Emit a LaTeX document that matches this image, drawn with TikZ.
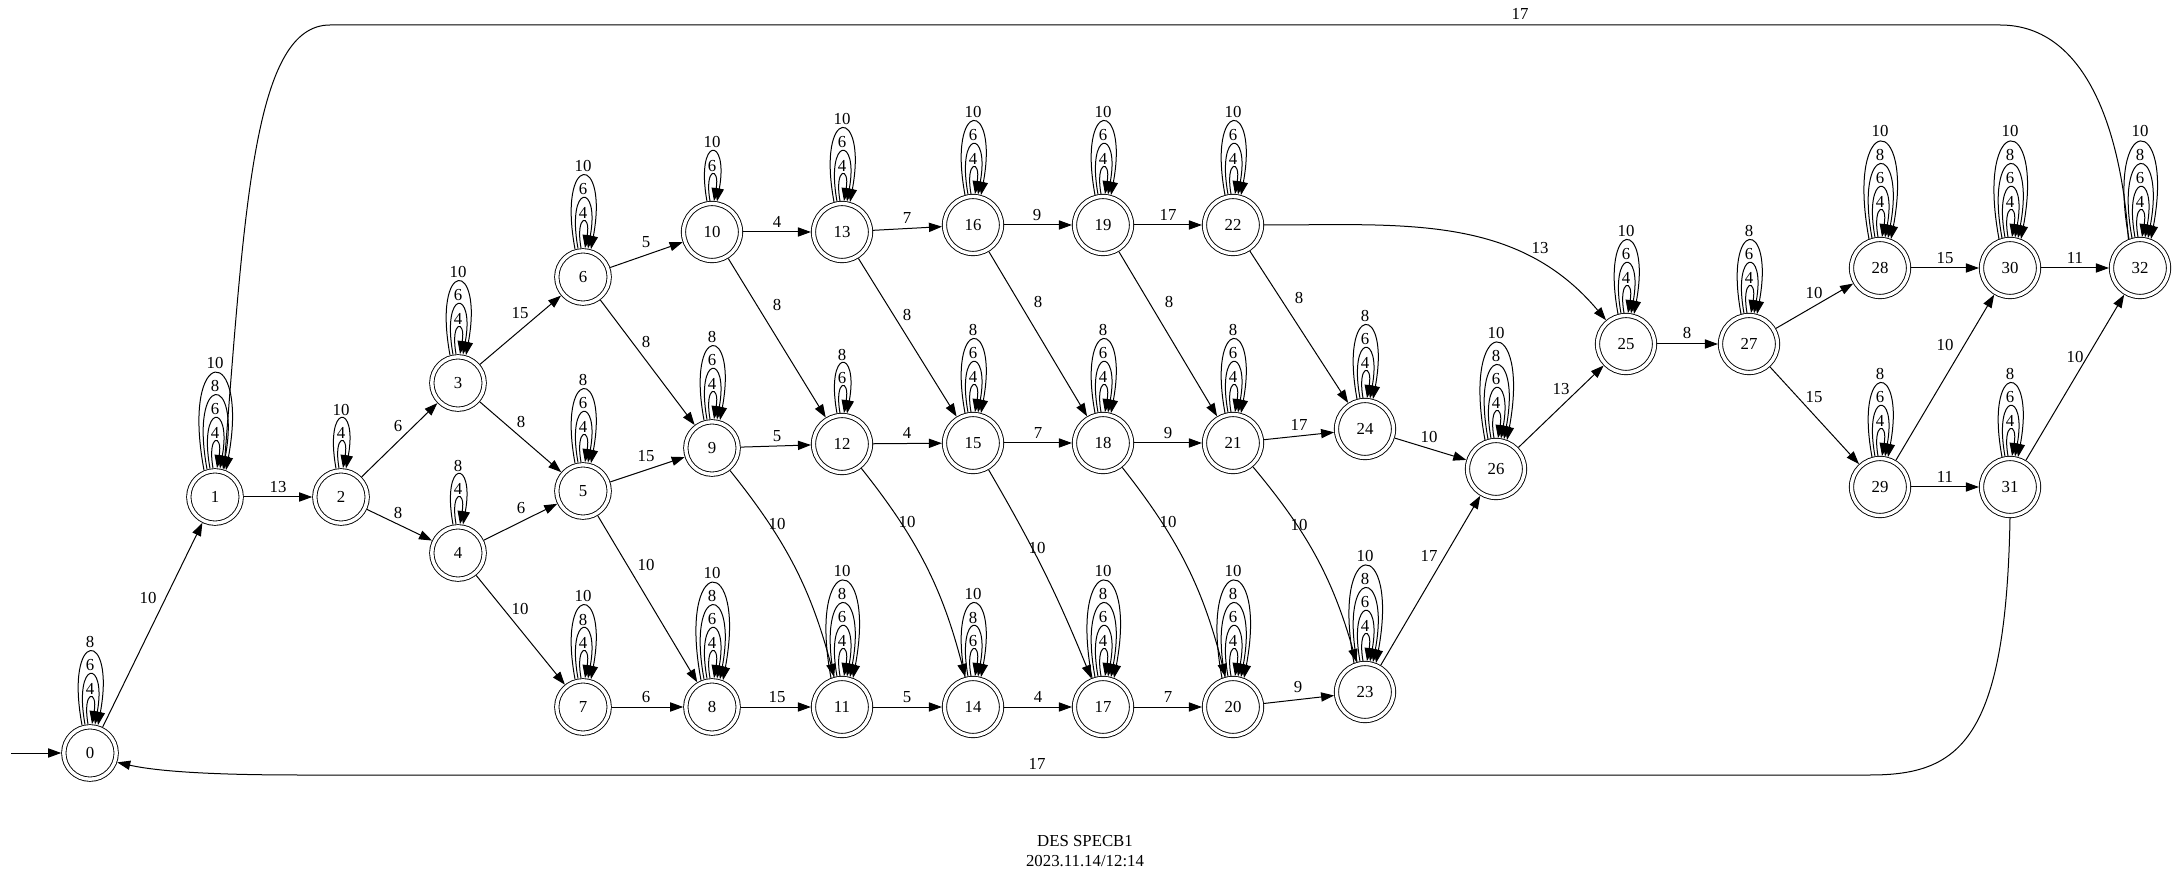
\documentclass[tikz,border=0pt]{standalone}
\usepackage{fontspec}
\setmainfont{Liberation Serif}
\usetikzlibrary{arrows.meta,calc}
\newcommand\lblfont{\fontsize{8.4}{10}\selectfont}
\tikzset{
  x=0.5pt, y=0.5pt,
  arr/.style={line width=0.5pt, -{Triangle[length=6.5pt,width=4.6pt]}},
  plain/.style={line width=0.5pt},
  st/.style={circle, draw, double, double distance=1.7pt, line width=0.45pt,
    inner sep=0pt, outer sep=1.3pt, minimum size=26.2pt, font=\lblfont},
  stw/.style={st, minimum size=28.5pt},
  lab/.style={font=\lblfont, inner sep=0pt},
}
% self loops: node name, outer radius (px), list of labels
\newcommand\selfloops[3]{%
  \foreach \lab [count=\kk from 0] in {#3} {%
    \pgfmathsetmacro\ls{2+3*\kk}%
    \pgfmathsetmacro\lw{6+6*\kk}%
    \pgfmathsetmacro\lpk{25+23.5*\kk}%
    \pgfmathsetmacro\lhc{(\lpk+1)/0.75}%
    \pgfmathsetmacro\ldy{sqrt(#2*#2-\ls*\ls)}%
    \draw[arr] ($(#1)+(-\ls,\ldy)$) .. controls +(-\lw,\lhc) and +(\lw,\lhc) .. ($(#1)+(\ls,\ldy)$);
    \node[lab] at ($(#1)+(0,#2+\lpk+10)$) {\lab};
  }%
}
% edge: [options]{from}{to}{label}{label position}
\newcommand\edg[5][]{%
  \draw[arr,#1] (n#2) to (n#3);
  \node[lab] at (#5) {#4};
}
\begin{document}
\begin{tikzpicture}
\useasboundingbox (0,0) rectangle (2179,-881);

% states
\node[st]  (n0)  at (90,-753)  {0};
\node[st]  (n1)  at (215,-497) {1};
\node[st]  (n2)  at (341,-497) {2};
\node[st]  (n3)  at (458,-383) {3};
\node[st]  (n4)  at (458,-553) {4};
\node[st]  (n5)  at (583,-491) {5};
\node[st]  (n6)  at (583,-277) {6};
\node[st]  (n7)  at (583,-707) {7};
\node[st]  (n8)  at (712,-707) {8};
\node[st]  (n9)  at (712,-448) {9};
\node[stw] (n10) at (712,-232) {10};
\node[stw] (n11) at (842,-707) {11};
\node[stw] (n12) at (842,-444) {12};
\node[stw] (n13) at (842,-232) {13};
\node[stw] (n14) at (973,-707) {14};
\node[stw] (n15) at (973,-443) {15};
\node[stw] (n16) at (973,-225) {16};
\node[stw] (n17) at (1103,-707) {17};
\node[stw] (n18) at (1103,-443) {18};
\node[stw] (n19) at (1103,-225) {19};
\node[stw] (n20) at (1233,-707) {20};
\node[stw] (n21) at (1233,-443) {21};
\node[stw] (n22) at (1233,-225) {22};
\node[stw] (n23) at (1365,-692) {23};
\node[stw] (n24) at (1365,-429) {24};
\node[stw] (n25) at (1626,-344) {25};
\node[stw] (n26) at (1496,-469) {26};
\node[stw] (n27) at (1749,-344) {27};
\node[stw] (n28) at (1880,-268) {28};
\node[stw] (n29) at (1880,-487) {29};
\node[stw] (n30) at (2010,-268) {30};
\node[stw] (n31) at (2010,-487) {31};
\node[stw] (n32) at (2140,-268) {32};

% self loops
\selfloops{n0}{29}{4,6,8}
\selfloops{n1}{29}{4,6,8,10}
\selfloops{n2}{29}{4,10}
\selfloops{n3}{29}{4,6,10}
\selfloops{n4}{29}{4,8}
\selfloops{n5}{29}{4,6,8}
\selfloops{n6}{29}{4,6,10}
\selfloops{n7}{29}{4,8,10}
\selfloops{n8}{29}{4,6,8,10}
\selfloops{n9}{29}{4,6,8}
\selfloops{n10}{31}{6,10}
\selfloops{n11}{31}{4,6,8,10}
\selfloops{n12}{31}{6,8}
\selfloops{n13}{31}{4,6,10}
\selfloops{n14}{31}{6,8,10}
\selfloops{n15}{31}{4,6,8}
\selfloops{n16}{31}{4,6,10}
\selfloops{n17}{31}{4,6,8,10}
\selfloops{n18}{31}{4,6,8}
\selfloops{n19}{31}{4,6,10}
\selfloops{n20}{31}{4,6,8,10}
\selfloops{n21}{31}{4,6,8}
\selfloops{n22}{31}{4,6,10}
\selfloops{n23}{31}{4,6,8,10}
\selfloops{n24}{31}{4,6,8}
\selfloops{n25}{31}{4,6,10}
\selfloops{n26}{31}{4,6,8,10}
\selfloops{n27}{31}{4,6,8}
\selfloops{n28}{31}{4,6,8,10}
\selfloops{n29}{31}{4,6,8}
\selfloops{n30}{31}{4,6,8,10}
\selfloops{n31}{31}{4,6,8}
\selfloops{n32}{31}{4,6,8,10}

% initial arrow
\coordinate (init) at (11,-753);
\draw[arr] (init) -- (n0);

% transitions
\edg{0}{1}{10}{148,-598}
\edg{1}{2}{13}{278,-487}
\edg{2}{3}{6}{398,-426}
\edg{2}{4}{8}{398,-513}
\edg{3}{6}{15}{520,-313}
\edg{3}{5}{8}{521,-422}
\edg{4}{5}{6}{521,-508}
\edg{4}{7}{10}{520,-609}
\edg{6}{10}{5}{646,-242}
\edg{6}{9}{8}{646,-342}
\edg{5}{9}{15}{646,-456}
\edg{5}{8}{10}{646,-565}
\edg{7}{8}{6}{646,-697}
\edg{10}{13}{4}{777,-222}
\edg{10}{12}{8}{777,-305}
\edg{9}{12}{5}{777,-436}
\edg[bend left=12]{9}{11}{10}{777,-524}
\edg{8}{11}{15}{777,-697}
\edg{13}{16}{7}{907,-218}
\edg{13}{15}{8}{907,-315}
\edg{12}{15}{4}{907,-433}
\edg[bend left=12]{12}{14}{10}{907,-522}
\edg{11}{14}{5}{907,-697}
\edg{16}{19}{9}{1037,-215}
\edg{16}{18}{8}{1038,-302}
\edg{15}{18}{7}{1038,-433}
\edg[bend left=4]{15}{17}{10}{1037,-548}
\edg{14}{17}{4}{1038,-697}
\edg{19}{22}{17}{1168,-215}
\edg{19}{21}{8}{1169,-302}
\edg{18}{21}{9}{1168,-433}
\edg[bend left=12]{18}{20}{10}{1168,-522}
\edg{17}{20}{7}{1168,-697}
\edg[out=0,in=130]{22}{25}{13}{1540,-248}
\edg{22}{24}{8}{1299,-298}
\edg{21}{24}{17}{1299,-425}
\edg[bend left=12]{21}{23}{10}{1299,-525}
\edg{20}{23}{9}{1298,-687}
\edg{24}{26}{10}{1429,-437}
\edg{23}{26}{17}{1429,-556}
\edg{26}{25}{13}{1561,-389}
\edg{25}{27}{8}{1687,-333}
\edg{27}{28}{10}{1814,-293}
\edg{27}{29}{15}{1814,-397}
\edg{28}{30}{15}{1945,-258}
\edg{29}{30}{10}{1945,-345}
\edg{29}{31}{11}{1945,-477}
\edg{30}{32}{11}{2075,-258}
\edg{31}{32}{10}{2075,-357}

% long back edges
\draw[arr] (n32.112) .. controls (2122,-140) and (2090,-25) .. (2000,-25)
  -- (330,-25) .. controls (255,-25) and (245,-200) .. (n1.72);
\node[lab] at (1520,-14) {17};
\draw[arr] (n31.south) .. controls (2006,-740) and (1960,-775) .. (1870,-775)
  -- (300,-775) .. controls (220,-775) and (160,-772) .. (n0.-19);
\node[lab] at (1037,-764) {17};

% title
\node[lab, align=center] (title) at (1085,-851) {DES SPECB1\\2023.11.14/12:14};
\end{tikzpicture}
\end{document}
